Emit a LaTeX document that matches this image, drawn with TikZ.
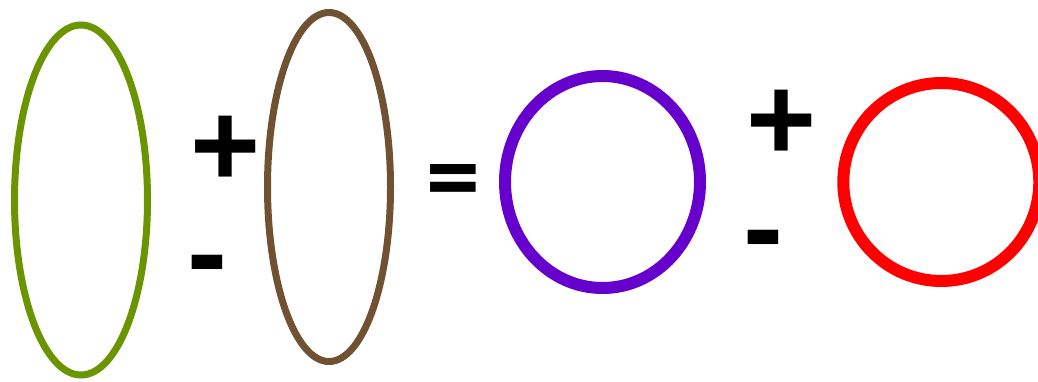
\documentclass[tikz,border=0pt]{standalone}
\usepackage{fontspec}
\setmainfont{Liberation Sans}
\newfontfamily\eqfont{Open Sans}
\usetikzlibrary{shapes.geometric}
\definecolor{cgreen}{RGB}{107,149,0}
\definecolor{cbrown}{RGB}{112,82,50}
\definecolor{cpurple}{RGB}{102,0,204}
\definecolor{cred}{RGB}{255,0,0}
\tikzset{
  oval/.style={ellipse, draw, inner sep=0pt, outer sep=0pt},
  thinoval/.style={oval, line width=7pt},
  thickoval/.style={oval, line width=12pt},
  sym/.style={inner sep=0pt, outer sep=0pt, font=\bfseries\fontsize{120}{120}\selectfont},
  eqsym/.style={inner sep=0pt, outer sep=0pt, font=\eqfont\bfseries\fontsize{94}{94}\selectfont}
}
\begin{document}
\begin{tikzpicture}[x=1pt,y=-1pt]
\useasboundingbox (0,0) rectangle (1038,381);
\node[thinoval, draw=cgreen, minimum width=133pt, minimum height=350pt] (g) at (81,200) {};
\node[thinoval, draw=cbrown, minimum width=123pt, minimum height=349pt] (b) at (329,187) {};
\node[thickoval, draw=cpurple, minimum width=195pt, minimum height=212pt] (p) at (602.5,182) {};
\node[thickoval, draw=cred, minimum width=196pt, minimum height=198pt] (r) at (941.3,182) {};
\node[sym] (plus1) at (225.5,151) {+};
\node[sym] (minus1) at (207,274.5) {-};
\node[eqsym] (eq) at (453,187.7) {=};
\node[sym] (plus2) at (781.3,125.5) {+};
\node[sym] (minus2) at (763,249.5) {-};
\end{tikzpicture}
\end{document}
